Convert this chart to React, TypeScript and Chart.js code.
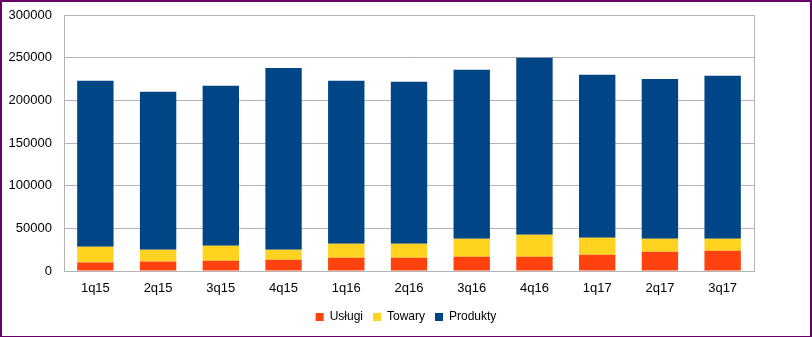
import React, { useEffect, useRef } from "react";
import { Chart, registerables } from "chart.js";

Chart.register(...registerables);

const categories = ["1q15", "2q15", "3q15", "4q15", "1q16", "2q16", "3q16", "4q16", "1q17", "2q17", "3q17"];
const uslugi = [10000, 11000, 12000, 13300, 15600, 15600, 16800, 16800, 19000, 22600, 23800];
const towary = [18500, 14000, 17600, 11700, 16400, 16400, 21000, 25700, 20000, 15200, 14000];
const produkty = [194500, 185000, 187400, 213000, 191000, 189800, 198000, 207500, 191000, 187200, 190900];
const yTicks = [0, 50000, 100000, 150000, 200000, 250000, 300000];

const FONT = "'Liberation Sans', Arial, sans-serif";
const GRID = "#b3b3b3";

export default function App() {
  const ref = useRef<HTMLCanvasElement | null>(null);

  useEffect(() => {
    document.body.style.margin = "0";
    const ctx = ref.current!;
    const chart = new Chart(ctx, {
      type: "bar",
      data: {
        labels: categories,
        datasets: [
          { label: "Usługi", data: uslugi, backgroundColor: "#ff420e" },
          { label: "Towary", data: towary, backgroundColor: "#ffd320" },
          { label: "Produkty", data: produkty, backgroundColor: "#004586" },
        ],
      },
      options: {
        animation: false,
        responsive: false,
        maintainAspectRatio: false,
        datasets: { bar: { categoryPercentage: 1, barPercentage: 0.58 } },
        layout: { padding: { top: 13, left: 0, right: 0, bottom: 3 } },
        plugins: {
          tooltip: { enabled: false },
          legend: {
            position: "bottom",
            labels: {
              boxWidth: 8,
              boxHeight: 8,
              padding: 10,
              color: "#000",
              font: { family: FONT, size: 12 },
            },
          },
        },
        scales: {
          x: {
            stacked: true,
            grid: { display: false, drawTicks: false },
            border: { display: true, color: GRID },
            ticks: { color: "#000", padding: 10, font: { family: FONT, size: 13 } },
            afterFit: (s: any) => { s.height = 30; },
          },
          y: {
            stacked: true,
            min: 0,
            max: 300000,
            afterBuildTicks: (s: any) => { s.ticks = yTicks.map((v) => ({ value: v })); },
            grid: { color: GRID, drawTicks: false },
            border: { display: true, color: GRID },
            ticks: {
              color: "#000",
              padding: 12,
              font: { family: FONT, size: 13 },
              callback: (v: any) => String(v),
            },
            afterFit: (s: any) => {
              s.width = 62;
              s.paddingTop = 0;
              s.paddingBottom = 0;
            },
          },
          y2: {
            position: "right",
            display: true,
            grid: { display: false, drawTicks: false },
            border: { display: true, color: GRID },
            ticks: { display: false },
            afterFit: (s: any) => {
              s.width = 56;
              s.paddingTop = 0;
              s.paddingBottom = 0;
            },
          },
        },
      } as any,
    });
    return () => chart.destroy();
  }, []);

  return (
    <div
      style={{
        position: "fixed",
        left: 0,
        top: 0,
        width: 812,
        height: 337,
        boxSizing: "border-box",
        borderStyle: "solid",
        borderColor: "#660066",
        borderWidth: "2px 2px 1px 2px",
        background: "#fff",
      }}
    >
      <canvas ref={ref} width={808} height={334} style={{ display: "block", width: 808, height: 334 }} />
    </div>
  );
}
